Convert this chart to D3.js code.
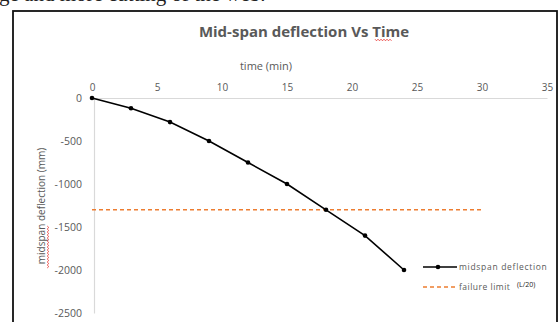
<!DOCTYPE html>
<html>
<head>
<meta charset="utf-8">
<script src="https://cdn.jsdelivr.net/npm/d3@7"></script>
<style>
  html, body { margin: 0; padding: 0; background: #fff; }
  svg { display: block; }
</style>
</head>
<body>
<svg id="mainsvg" width="560" height="322"></svg>
<script>
(function () {
  // data
  const times = [0, 3, 6, 9, 12, 15, 18, 21, 24];
  const deflection = [0, -120, -280, -500, -750, -1000, -1300, -1600, -2000];
  const failureLimit = -1300;
  const failureSpan = [0, 30];
  const xTicks = [0, 5, 10, 15, 20, 25, 30, 35];
  const yTicks = [0, -500, -1000, -1500, -2000, -2500];

  const svg = d3.select('#mainsvg');
  const font = '"Open Sans", "Noto Sans", sans-serif';
  const grey = '#595959';

  // bit of page text cut off above the figure
  svg.append('text')
    .attr('x', -1).attr('y', 1)
    .attr('font-family', '"Liberation Serif", serif')
    .attr('font-size', 21)
    .attr('fill', '#222')
    .text('ge and more cutting of the web.');

  // figure frame
  svg.append('rect')
    .attr('x', 13).attr('y', 11)
    .attr('width', 544).attr('height', 330)
    .attr('fill', '#fff')
    .attr('stroke', '#111')
    .attr('stroke-width', 1.8);

  const xScale = d3.scaleLinear().domain([0, 35]).range([92, 547]);
  const yScale = d3.scaleLinear().domain([-2500, 0]).range([313, 98]);

  // red spell-check squiggle
  function squiggle(x0, y0, len, vertical) {
    const pts = [];
    for (let i = 0; i <= len; i += 1.5) {
      const off = (Math.round(i / 1.5) % 2 === 0) ? -0.8 : 0.8;
      pts.push(vertical ? [x0 + off, y0 - i] : [x0 + i, y0 + off]);
    }
    svg.append('path')
      .attr('d', d3.line()(pts))
      .attr('fill', 'none')
      .attr('stroke', '#e8322f')
      .attr('stroke-width', 0.8);
  }

  // title
  svg.append('text')
    .attr('x', 304).attr('y', 37)
    .attr('text-anchor', 'middle')
    .attr('font-family', font)
    .attr('font-weight', 'bold')
    .attr('font-size', 15)
    .attr('fill', grey)
    .text('Mid-span deflection Vs Time');
  squiggle(375, 40, 17, false);

  // x axis title
  svg.append('text')
    .attr('x', 266).attr('y', 70)
    .attr('text-anchor', 'middle')
    .attr('font-family', font)
    .attr('font-size', 11)
    .attr('fill', grey)
    .text('time (min)');

  const plain = d => String(d);

  // x axis on top at y = 0
  const xAxis = d3.axisTop(xScale).tickValues(xTicks).tickFormat(plain).tickSize(0).tickPadding(7);
  const gx = svg.append('g')
    .attr('transform', `translate(0,${yScale(0)})`)
    .call(xAxis);
  gx.select('.domain').attr('stroke', '#d9d9d9').attr('stroke-width', 1.2);
  gx.selectAll('text')
    .attr('font-family', font).attr('font-size', 10).attr('fill', grey);

  // y axis
  const yAxis = d3.axisLeft(yScale).tickValues(yTicks).tickFormat(plain).tickSize(0).tickPadding(12);
  const gy = svg.append('g')
    .attr('transform', `translate(94,0)`)
    .call(yAxis);
  gy.select('.domain').attr('stroke', '#d9d9d9').attr('stroke-width', 1.2);
  gy.selectAll('text')
    .attr('font-family', font).attr('font-size', 10.5).attr('fill', grey);

  // y axis title
  svg.append('text')
    .attr('transform', 'translate(45,206) rotate(-90)')
    .attr('text-anchor', 'middle')
    .attr('font-family', font)
    .attr('font-size', 10)
    .attr('fill', grey)
    .text('midspan deflection (mm)');
  squiggle(48, 268, 42, true);

  // failure limit
  svg.append('line')
    .attr('x1', xScale(failureSpan[0])).attr('x2', xScale(failureSpan[1]))
    .attr('y1', yScale(failureLimit)).attr('y2', yScale(failureLimit))
    .attr('stroke', '#ed7d31')
    .attr('stroke-width', 1.5)
    .attr('stroke-dasharray', '4,3');

  // deflection series
  const series = times.map((t, i) => ({ t: t, v: deflection[i] }));
  const line = d3.line().x(d => xScale(d.t)).y(d => yScale(d.v));
  svg.append('path')
    .datum(series)
    .attr('d', line)
    .attr('fill', 'none')
    .attr('stroke', '#000')
    .attr('stroke-width', 1.6);
  svg.selectAll('circle.pt')
    .data(series)
    .enter().append('circle')
    .attr('class', 'pt')
    .attr('cx', d => xScale(d.t))
    .attr('cy', d => yScale(d.v))
    .attr('r', 2.3)
    .attr('fill', '#000');

  // legend
  const lg = svg.append('g').attr('font-family', font).attr('font-size', 8.5).attr('fill', grey);
  lg.append('line').attr('x1', 423).attr('x2', 457).attr('y1', 267).attr('y2', 267)
    .attr('stroke', '#000').attr('stroke-width', 1.6);
  lg.append('circle').attr('cx', 438).attr('cy', 267).attr('r', 2.3).attr('fill', '#000');
  lg.append('text').attr('x', 459).attr('y', 270).attr('letter-spacing', 0.7).text('midspan deflection');
  lg.append('line').attr('x1', 423).attr('x2', 457).attr('y1', 287).attr('y2', 287)
    .attr('stroke', '#ed7d31').attr('stroke-width', 1.5).attr('stroke-dasharray', '4,3');
  lg.append('text').attr('x', 459).attr('y', 290).attr('letter-spacing', 0.5).text('failure limit');
  lg.append('text').attr('x', 517).attr('y', 287).attr('font-size', 7).attr('fill', '#222').text('(L/20)');
})();
</script>
</body>
</html>
